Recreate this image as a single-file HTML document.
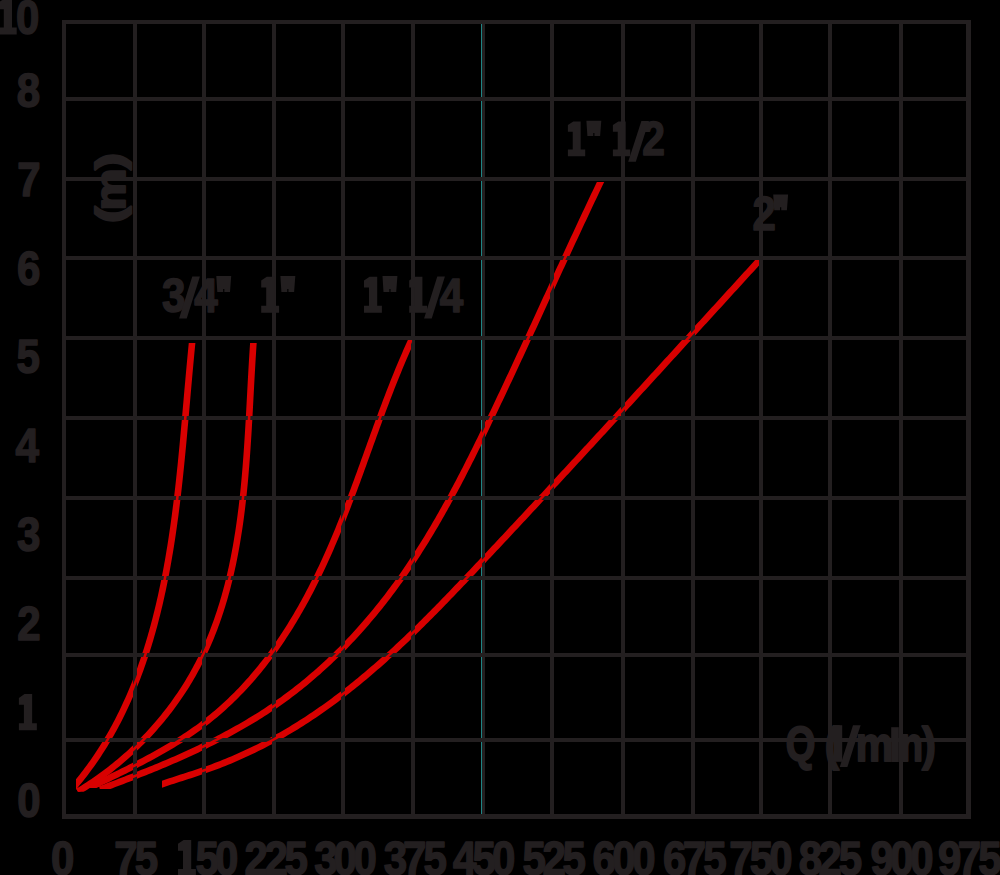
<!DOCTYPE html>
<html><head><meta charset="utf-8"><style>
html,body{margin:0;padding:0;background:#000;width:1000px;height:875px;overflow:hidden}
svg{display:block}
text{font-family:"Liberation Sans",sans-serif}
</style></head><body>
<svg width="1000" height="875" viewBox="0 0 1000 875">
<defs><clipPath id="kc1"><rect x="76" y="343" width="924" height="532"/></clipPath><clipPath id="kc2"><rect x="0" y="343" width="1000" height="448.79999999999995"/></clipPath><clipPath id="kc3"><rect x="0" y="340" width="412" height="448"/></clipPath><clipPath id="kc4"><rect x="0" y="182" width="1000" height="607"/></clipPath><clipPath id="kc5"><rect x="162" y="260" width="597" height="615"/></clipPath></defs><rect width="1000" height="875" fill="#000"/>
<rect x="481" y="24" width="1" height="790" fill="#1f8585"/>
<g fill="none" stroke="#d80000" stroke-width="6.6" stroke-linejoin="round"><path clip-path="url(#kc1)" d="M192.65,337.32 L192.06,343.29 L191.76,346.28 L191.47,349.27 L191.18,352.26 L190.89,355.25 L190.61,358.24 L190.33,361.23 L190.05,364.22 L189.78,367.21 L189.50,370.21 L189.23,373.20 L188.96,376.19 L188.69,379.18 L188.43,382.18 L188.16,385.17 L187.90,388.16 L187.63,391.16 L187.37,394.15 L187.11,397.14 L186.85,400.14 L186.59,403.13 L186.32,406.12 L186.06,409.12 L185.80,412.11 L185.54,415.10 L185.27,418.09 L185.01,421.09 L184.74,424.08 L184.47,427.07 L184.20,430.07 L183.93,433.06 L183.66,436.05 L183.39,439.04 L183.11,442.03 L182.83,445.03 L182.55,448.02 L182.26,451.01 L181.97,454.00 L181.68,456.99 L181.39,459.98 L181.09,462.97 L180.79,465.96 L180.48,468.95 L180.17,471.94 L179.86,474.93 L179.54,477.91 L179.22,480.90 L178.89,483.89 L178.56,486.87 L178.22,489.86 L177.88,492.84 L177.53,495.83 L177.17,498.81 L176.81,501.79 L176.45,504.78 L176.07,507.76 L175.69,510.74 L175.31,513.72 L174.92,516.70 L174.52,519.68 L174.11,522.65 L173.69,525.63 L173.27,528.60 L172.84,531.58 L172.41,534.55 L171.96,537.52 L171.51,540.49 L171.04,543.46 L170.57,546.43 L170.09,549.39 L169.60,552.36 L169.10,555.32 L168.60,558.28 L168.08,561.24 L167.55,564.20 L167.02,567.16 L166.47,570.11 L165.91,573.06 L165.34,576.01 L164.76,578.96 L164.17,581.91 L163.57,584.85 L162.96,587.79 L162.34,590.73 L161.70,593.67 L161.06,596.60 L160.40,599.54 L159.73,602.46 L159.04,605.39 L158.35,608.31 L157.64,611.23 L156.92,614.15 L156.18,617.06 L155.43,619.97 L154.67,622.88 L153.90,625.78 L153.11,628.68 L152.30,631.58 L151.49,634.47 L150.65,637.36 L149.81,640.24 L148.94,643.12 L148.06,645.99 L147.17,648.86 L146.26,651.72 L145.34,654.58 L144.40,657.43 L143.44,660.28 L142.46,663.12 L141.47,665.96 L140.46,668.79 L139.44,671.62 L138.40,674.43 L137.33,677.24 L136.26,680.05 L135.16,682.85 L134.04,685.64 L132.91,688.42 L131.76,691.19 L130.59,693.96 L129.40,696.72 L128.19,699.47 L126.96,702.21 L125.71,704.94 L124.44,707.67 L123.15,710.38 L121.84,713.09 L120.51,715.78 L119.16,718.46 L117.79,721.14 L116.40,723.80 L114.99,726.45 L113.55,729.09 L112.10,731.72 L110.63,734.34 L109.13,736.95 L107.61,739.54 L106.07,742.12 L104.51,744.69 L102.93,747.24 L101.32,749.78 L99.70,752.31 L98.05,754.82 L96.38,757.32 L94.68,759.80 L92.97,762.27 L91.23,764.72 L89.48,767.16 L87.70,769.58 L85.90,771.98 L84.07,774.37 L82.23,776.74 L80.36,779.10 L78.47,781.43 L76.56,783.75 L72.75,788.39"/><path clip-path="url(#kc2)" d="M253.76,337.44 L253.35,343.42 L253.15,346.43 L252.95,349.43 L252.76,352.43 L252.57,355.44 L252.38,358.44 L252.20,361.45 L252.03,364.45 L251.85,367.46 L251.68,370.46 L251.51,373.47 L251.34,376.47 L251.18,379.48 L251.01,382.48 L250.85,385.49 L250.69,388.49 L250.53,391.50 L250.37,394.50 L250.21,397.51 L250.05,400.51 L249.89,403.52 L249.73,406.53 L249.57,409.53 L249.40,412.54 L249.24,415.54 L249.07,418.55 L248.90,421.55 L248.72,424.56 L248.55,427.56 L248.37,430.57 L248.19,433.57 L248.00,436.57 L247.81,439.58 L247.62,442.58 L247.42,445.59 L247.22,448.59 L247.01,451.59 L246.80,454.59 L246.58,457.59 L246.35,460.60 L246.12,463.60 L245.89,466.60 L245.64,469.60 L245.39,472.60 L245.13,475.60 L244.87,478.59 L244.59,481.59 L244.31,484.59 L244.02,487.58 L243.72,490.58 L243.41,493.57 L243.09,496.56 L242.76,499.56 L242.43,502.55 L242.08,505.54 L241.72,508.53 L241.35,511.51 L240.97,514.50 L240.58,517.48 L240.18,520.46 L239.76,523.45 L239.33,526.43 L238.89,529.40 L238.44,532.38 L237.97,535.35 L237.49,538.32 L237.00,541.29 L236.49,544.26 L235.97,547.22 L235.43,550.18 L234.88,553.14 L234.31,556.10 L233.73,559.05 L233.13,562.00 L232.51,564.95 L231.88,567.89 L231.23,570.83 L230.56,573.76 L229.87,576.69 L229.17,579.62 L228.45,582.54 L227.71,585.46 L226.95,588.37 L226.17,591.28 L225.37,594.18 L224.56,597.08 L223.72,599.97 L222.86,602.85 L221.98,605.73 L221.08,608.60 L220.16,611.47 L219.22,614.33 L218.25,617.18 L217.27,620.02 L216.26,622.86 L215.22,625.68 L214.17,628.50 L213.09,631.31 L211.99,634.11 L210.86,636.91 L209.72,639.69 L208.54,642.46 L207.34,645.22 L206.12,647.97 L204.88,650.71 L203.60,653.44 L202.31,656.16 L200.99,658.86 L199.64,661.55 L198.27,664.23 L196.87,666.89 L195.44,669.55 L193.99,672.18 L192.52,674.81 L191.02,677.42 L189.49,680.01 L187.94,682.59 L186.36,685.15 L184.76,687.70 L183.13,690.23 L181.48,692.75 L179.80,695.25 L178.10,697.73 L176.38,700.20 L174.63,702.65 L172.86,705.08 L171.06,707.50 L169.25,709.90 L167.41,712.28 L165.55,714.65 L163.67,716.99 L161.76,719.33 L159.84,721.64 L157.89,723.93 L155.92,726.21 L153.93,728.47 L151.92,730.71 L149.89,732.93 L147.84,735.13 L145.77,737.32 L143.68,739.48 L141.57,741.63 L139.43,743.75 L137.28,745.86 L135.11,747.94 L132.92,750.01 L130.72,752.05 L128.49,754.08 L126.25,756.08 L123.98,758.07 L121.70,760.03 L119.40,761.97 L117.09,763.90 L114.75,765.80 L112.40,767.67 L110.03,769.53 L107.65,771.37 L105.24,773.18 L102.82,774.97 L100.39,776.74 L97.94,778.48 L95.47,780.21 L92.98,781.90 L90.48,783.58 L87.97,785.23 L85.43,786.86 L82.89,788.46 L77.81,791.66"/><path clip-path="url(#kc3)" d="M413.80,334.99 L411.31,340.45 L410.05,343.19 L408.81,345.94 L407.58,348.69 L406.36,351.45 L405.15,354.21 L403.95,356.97 L402.76,359.75 L401.59,362.52 L400.42,365.30 L399.26,368.08 L398.11,370.87 L396.96,373.66 L395.83,376.45 L394.71,379.25 L393.59,382.05 L392.48,384.85 L391.37,387.66 L390.28,390.47 L389.19,393.28 L388.11,396.09 L387.03,398.91 L385.96,401.73 L384.89,404.55 L383.83,407.37 L382.78,410.20 L381.73,413.02 L380.68,415.85 L379.64,418.68 L378.60,421.51 L377.56,424.34 L376.53,427.17 L375.50,430.01 L374.47,432.84 L373.44,435.67 L372.42,438.51 L371.39,441.35 L370.37,444.18 L369.35,447.02 L368.33,449.86 L367.31,452.69 L366.29,455.53 L365.26,458.37 L364.24,461.20 L363.22,464.04 L362.19,466.87 L361.17,469.71 L360.14,472.54 L359.11,475.38 L358.07,478.21 L357.04,481.04 L355.99,483.87 L354.95,486.70 L353.90,489.53 L352.85,492.35 L351.79,495.17 L350.73,498.00 L349.67,500.82 L348.59,503.63 L347.51,506.45 L346.43,509.26 L345.34,512.07 L344.24,514.88 L343.14,517.69 L342.03,520.49 L340.91,523.29 L339.78,526.09 L338.64,528.88 L337.50,531.67 L336.35,534.45 L335.18,537.24 L334.01,540.02 L332.83,542.79 L331.64,545.56 L330.44,548.32 L329.23,551.09 L328.01,553.84 L326.77,556.59 L325.53,559.34 L324.27,562.08 L323.01,564.82 L321.73,567.55 L320.44,570.27 L319.13,572.99 L317.82,575.70 L316.49,578.41 L315.15,581.11 L313.80,583.81 L312.43,586.49 L311.06,589.18 L309.66,591.85 L308.26,594.52 L306.84,597.18 L305.40,599.83 L303.96,602.47 L302.49,605.11 L301.02,607.74 L299.52,610.36 L298.02,612.97 L296.50,615.57 L294.96,618.17 L293.41,620.75 L291.84,623.33 L290.25,625.89 L288.65,628.45 L287.03,630.99 L285.40,633.53 L283.75,636.05 L282.08,638.56 L280.40,641.06 L278.70,643.55 L276.98,646.03 L275.25,648.49 L273.49,650.95 L271.72,653.39 L269.93,655.81 L268.12,658.23 L266.30,660.63 L264.46,663.01 L262.59,665.38 L260.71,667.74 L258.81,670.08 L256.89,672.41 L254.96,674.72 L253.00,677.01 L251.02,679.29 L249.03,681.55 L247.01,683.79 L244.98,686.02 L242.93,688.22 L240.85,690.41 L238.76,692.59 L236.65,694.74 L234.52,696.87 L232.37,698.98 L230.19,701.07 L228.00,703.15 L225.79,705.20 L223.56,707.23 L221.32,709.23 L219.05,711.22 L216.76,713.18 L214.45,715.13 L212.13,717.04 L209.78,718.94 L207.42,720.81 L205.03,722.66 L202.63,724.48 L200.21,726.28 L197.77,728.05 L195.32,729.80 L192.85,731.53 L190.36,733.23 L187.86,734.92 L185.35,736.58 L182.82,738.22 L180.28,739.85 L177.72,741.45 L175.16,743.04 L172.58,744.60 L170.00,746.15 L167.40,747.69 L164.80,749.21 L162.18,750.71 L159.56,752.19 L156.93,753.67 L154.29,755.13 L151.64,756.57 L148.99,758.01 L146.33,759.43 L143.67,760.84 L141.00,762.24 L138.32,763.62 L135.64,765.00 L132.95,766.37 L130.26,767.74 L127.57,769.09 L124.87,770.44 L122.17,771.78 L119.47,773.11 L116.76,774.44 L114.05,775.77 L111.34,777.09 L108.63,778.41 L105.92,779.72 L103.21,781.03 L100.49,782.35 L97.78,783.66 L95.06,784.97 L92.35,786.28 L86.94,788.89"/><path clip-path="url(#kc4)" d="M602.20,178.52 L599.62,183.94 L598.32,186.65 L597.03,189.36 L595.74,192.07 L594.45,194.78 L593.17,197.49 L591.89,200.21 L590.60,202.92 L589.32,205.63 L588.04,208.35 L586.77,211.07 L585.49,213.78 L584.22,216.50 L582.94,219.22 L581.67,221.94 L580.40,224.66 L579.13,227.38 L577.87,230.10 L576.60,232.82 L575.33,235.54 L574.07,238.26 L572.81,240.99 L571.54,243.71 L570.28,246.43 L569.02,249.16 L567.76,251.88 L566.51,254.61 L565.25,257.33 L563.99,260.06 L562.73,262.78 L561.48,265.51 L560.22,268.24 L558.97,270.96 L557.72,273.69 L556.46,276.42 L555.21,279.15 L553.96,281.87 L552.70,284.60 L551.45,287.33 L550.20,290.06 L548.95,292.78 L547.69,295.51 L546.44,298.24 L545.19,300.97 L543.94,303.70 L542.69,306.42 L541.43,309.15 L540.18,311.88 L538.93,314.61 L537.68,317.34 L536.42,320.06 L535.17,322.79 L533.92,325.52 L532.66,328.24 L531.41,330.97 L530.15,333.70 L528.90,336.42 L527.64,339.15 L526.38,341.88 L525.12,344.60 L523.87,347.33 L522.61,350.05 L521.34,352.77 L520.08,355.50 L518.82,358.22 L517.56,360.94 L516.29,363.67 L515.03,366.39 L513.76,369.11 L512.49,371.83 L511.22,374.55 L509.95,377.27 L508.68,379.99 L507.41,382.70 L506.13,385.42 L504.85,388.14 L503.58,390.85 L502.30,393.57 L501.01,396.28 L499.73,399.00 L498.45,401.71 L497.16,404.42 L495.87,407.13 L494.58,409.84 L493.29,412.55 L492.00,415.26 L490.70,417.97 L489.40,420.67 L488.10,423.38 L486.80,426.08 L485.49,428.79 L484.18,431.49 L482.87,434.19 L481.56,436.89 L480.24,439.58 L478.92,442.28 L477.60,444.97 L476.27,447.66 L474.94,450.35 L473.60,453.04 L472.26,455.73 L470.91,458.41 L469.56,461.09 L468.21,463.77 L466.85,466.44 L465.49,469.12 L464.11,471.79 L462.74,474.46 L461.36,477.12 L459.97,479.78 L458.58,482.44 L457.18,485.10 L455.77,487.75 L454.36,490.40 L452.94,493.04 L451.52,495.69 L450.09,498.32 L448.65,500.96 L447.20,503.59 L445.75,506.21 L444.28,508.83 L442.82,511.45 L441.34,514.06 L439.85,516.67 L438.36,519.28 L436.86,521.87 L435.35,524.47 L433.83,527.06 L432.30,529.64 L430.76,532.22 L429.21,534.79 L427.66,537.36 L426.09,539.92 L424.52,542.47 L422.93,545.02 L421.34,547.56 L419.73,550.10 L418.11,552.63 L416.49,555.15 L414.85,557.67 L413.21,560.18 L411.55,562.68 L409.88,565.18 L408.20,567.66 L406.51,570.14 L404.81,572.62 L403.09,575.08 L401.37,577.54 L399.63,579.98 L397.88,582.42 L396.12,584.85 L394.35,587.28 L392.56,589.69 L390.77,592.09 L388.96,594.49 L387.14,596.88 L385.31,599.25 L383.46,601.62 L381.61,603.98 L379.74,606.33 L377.86,608.67 L375.96,611.00 L374.06,613.32 L372.14,615.63 L370.21,617.93 L368.27,620.22 L366.32,622.50 L364.35,624.76 L362.37,627.02 L360.38,629.27 L358.38,631.50 L356.36,633.73 L354.33,635.94 L352.29,638.14 L350.24,640.33 L348.17,642.51 L346.10,644.67 L344.00,646.82 L341.90,648.97 L339.79,651.09 L337.66,653.21 L335.52,655.31 L333.36,657.41 L331.20,659.48 L329.02,661.55 L326.82,663.60 L324.62,665.64 L322.40,667.66 L320.17,669.67 L317.93,671.66 L315.68,673.65 L313.41,675.61 L311.13,677.56 L308.84,679.50 L306.53,681.43 L304.22,683.33 L301.89,685.23 L299.54,687.10 L297.19,688.96 L294.82,690.81 L292.44,692.64 L290.05,694.45 L287.65,696.25 L285.23,698.03 L282.80,699.80 L280.36,701.55 L277.91,703.27 L275.45,704.99 L272.97,706.68 L270.48,708.36 L267.98,710.02 L265.47,711.67 L262.95,713.30 L260.42,714.91 L257.88,716.51 L255.32,718.09 L252.76,719.65 L250.19,721.20 L247.61,722.74 L245.03,724.26 L242.43,725.76 L239.82,727.25 L237.21,728.73 L234.59,730.19 L231.96,731.65 L229.33,733.08 L226.69,734.51 L224.04,735.92 L221.38,737.32 L218.72,738.71 L216.06,740.09 L213.38,741.45 L210.70,742.81 L208.02,744.15 L205.33,745.48 L202.64,746.80 L199.93,748.11 L197.23,749.41 L194.52,750.70 L191.80,751.97 L189.08,753.24 L186.35,754.49 L183.62,755.73 L180.88,756.97 L178.14,758.19 L175.39,759.40 L172.64,760.60 L169.88,761.79 L167.12,762.96 L164.36,764.13 L161.59,765.29 L158.82,766.44 L156.04,767.58 L153.26,768.71 L150.48,769.84 L147.69,770.96 L144.90,772.07 L142.11,773.17 L139.32,774.28 L136.53,775.37 L133.73,776.46 L130.93,777.55 L128.14,778.64 L125.34,779.72 L122.54,780.80 L119.74,781.88 L116.93,782.96 L114.13,784.04 L111.33,785.12 L108.53,786.20 L105.73,787.28 L100.13,789.44"/><path clip-path="url(#kc5)" d="M762.70,256.62 L758.65,261.05 L756.63,263.26 L754.60,265.48 L752.58,267.70 L750.55,269.91 L748.53,272.13 L746.50,274.35 L744.48,276.57 L742.46,278.78 L740.43,281.00 L738.41,283.22 L736.39,285.44 L734.36,287.65 L732.34,289.87 L730.31,292.09 L728.29,294.31 L726.27,296.52 L724.24,298.74 L722.22,300.96 L720.20,303.18 L718.17,305.40 L716.15,307.61 L714.13,309.83 L712.10,312.05 L710.08,314.27 L708.05,316.48 L706.03,318.70 L704.01,320.92 L701.98,323.14 L699.96,325.35 L697.94,327.57 L695.91,329.79 L693.89,332.01 L691.86,334.22 L689.84,336.44 L687.82,338.66 L685.79,340.88 L683.77,343.09 L681.74,345.31 L679.72,347.53 L677.69,349.74 L675.67,351.96 L673.64,354.18 L671.62,356.39 L669.60,358.61 L667.57,360.83 L665.54,363.04 L663.52,365.26 L661.49,367.48 L659.47,369.69 L657.44,371.91 L655.42,374.12 L653.39,376.34 L651.36,378.55 L649.34,380.77 L647.31,382.98 L645.28,385.20 L643.26,387.41 L641.23,389.63 L639.20,391.84 L637.18,394.06 L635.15,396.27 L633.12,398.48 L631.09,400.70 L629.06,402.91 L627.04,405.12 L625.01,407.34 L622.98,409.55 L620.95,411.76 L618.92,413.98 L616.89,416.19 L614.86,418.40 L612.83,420.61 L610.80,422.82 L608.77,425.03 L606.74,427.25 L604.71,429.46 L602.68,431.67 L600.64,433.88 L598.61,436.09 L596.58,438.30 L594.55,440.51 L592.51,442.72 L590.48,444.92 L588.45,447.13 L586.41,449.34 L584.38,451.55 L582.35,453.76 L580.31,455.96 L578.28,458.17 L576.24,460.38 L574.20,462.59 L572.17,464.79 L570.13,467.00 L568.09,469.20 L566.06,471.41 L564.02,473.61 L561.98,475.82 L559.94,478.02 L557.91,480.23 L555.87,482.43 L553.83,484.63 L551.79,486.84 L549.75,489.04 L547.71,491.24 L545.67,493.44 L543.62,495.64 L541.58,497.84 L539.54,500.04 L537.50,502.24 L535.45,504.44 L533.41,506.64 L531.37,508.84 L529.32,511.04 L527.28,513.24 L525.23,515.44 L523.19,517.63 L521.14,519.83 L519.09,522.03 L517.05,524.22 L515.00,526.42 L512.95,528.61 L510.90,530.81 L508.85,533.00 L506.80,535.20 L504.75,537.39 L502.70,539.58 L500.65,541.77 L498.60,543.97 L496.55,546.16 L494.49,548.35 L492.44,550.54 L490.39,552.73 L488.33,554.92 L486.28,557.11 L484.22,559.29 L482.17,561.48 L480.11,563.67 L478.05,565.86 L475.99,568.04 L473.94,570.23 L471.88,572.41 L469.81,574.59 L467.75,576.77 L465.69,578.95 L463.62,581.13 L461.55,583.31 L459.48,585.48 L457.41,587.65 L455.33,589.82 L453.26,591.99 L451.18,594.16 L449.09,596.32 L447.01,598.48 L444.92,600.63 L442.83,602.79 L440.73,604.94 L438.63,607.09 L436.53,609.23 L434.43,611.37 L432.32,613.50 L430.20,615.63 L428.08,617.76 L425.96,619.89 L423.83,622.00 L421.70,624.12 L419.56,626.23 L417.42,628.33 L415.28,630.43 L413.12,632.52 L410.97,634.61 L408.80,636.69 L406.64,638.77 L404.46,640.84 L402.28,642.91 L400.10,644.96 L397.91,647.01 L395.71,649.06 L393.50,651.10 L391.29,653.13 L389.07,655.15 L386.85,657.17 L384.62,659.18 L382.38,661.18 L380.14,663.17 L377.88,665.16 L375.62,667.13 L373.36,669.10 L371.08,671.06 L368.80,673.01 L366.51,674.95 L364.21,676.88 L361.90,678.81 L359.59,680.72 L357.27,682.62 L354.94,684.51 L352.60,686.39 L350.25,688.27 L347.89,690.13 L345.53,691.98 L343.16,693.82 L340.77,695.64 L338.38,697.46 L335.98,699.26 L333.57,701.05 L331.16,702.83 L328.73,704.60 L326.29,706.35 L323.85,708.09 L321.39,709.82 L318.93,711.54 L316.45,713.24 L313.97,714.93 L311.48,716.60 L308.98,718.26 L306.46,719.90 L303.94,721.53 L301.41,723.15 L298.87,724.75 L296.32,726.33 L293.76,727.90 L291.19,729.46 L288.62,730.99 L286.03,732.52 L283.43,734.02 L280.82,735.51 L278.21,736.98 L275.58,738.44 L272.95,739.88 L270.30,741.30 L267.65,742.71 L264.99,744.10 L262.32,745.48 L259.64,746.83 L256.96,748.17 L254.26,749.50 L251.56,750.80 L248.85,752.09 L246.13,753.36 L243.40,754.62 L240.67,755.85 L237.92,757.07 L235.17,758.27 L232.41,759.46 L229.64,760.62 L226.87,761.77 L224.09,762.90 L221.30,764.00 L218.50,765.10 L215.70,766.17 L212.89,767.22 L210.07,768.25 L207.24,769.27 L204.41,770.26 L201.57,771.24 L198.72,772.20 L195.87,773.14 L193.02,774.08 L190.16,775.00 L187.31,775.92 L184.45,776.84 L181.59,777.75 L178.73,778.67 L175.87,779.60 L173.02,780.53 L170.17,781.48 L167.33,782.44 L164.49,783.42 L161.66,784.41 L156.00,786.40"/></g>
<g fill="#231f20"><rect x="62" y="20" width="4" height="799"/><rect x="133" y="20" width="4" height="799"/><rect x="202" y="20" width="4" height="799"/><rect x="272" y="20" width="4" height="799"/><rect x="341" y="20" width="4" height="799"/><rect x="411" y="20" width="4" height="799"/><rect x="482" y="20" width="3" height="799"/><rect x="550" y="20" width="4" height="799"/><rect x="621" y="20" width="4" height="799"/><rect x="691" y="20" width="4" height="799"/><rect x="759" y="20" width="4" height="799"/><rect x="828" y="20" width="4" height="799"/><rect x="899" y="20" width="4" height="799"/><rect x="966" y="20" width="5" height="799"/><rect x="62" y="20" width="909" height="4"/><rect x="62" y="97" width="909" height="4"/><rect x="62" y="177" width="909" height="4"/><rect x="62" y="256" width="909" height="4"/><rect x="62" y="336" width="909" height="4"/><rect x="62" y="416" width="909" height="4"/><rect x="62" y="496" width="909" height="4"/><rect x="62" y="576" width="909" height="4"/><rect x="62" y="653" width="909" height="4"/><rect x="62" y="738" width="909" height="4"/><rect x="62" y="814" width="909" height="5"/></g>
<g fill="none" stroke="#d80000" stroke-width="2.6" stroke-linejoin="round"><path clip-path="url(#kc1)" d="M192.65,337.32 L192.06,343.29 L191.76,346.28 L191.47,349.27 L191.18,352.26 L190.89,355.25 L190.61,358.24 L190.33,361.23 L190.05,364.22 L189.78,367.21 L189.50,370.21 L189.23,373.20 L188.96,376.19 L188.69,379.18 L188.43,382.18 L188.16,385.17 L187.90,388.16 L187.63,391.16 L187.37,394.15 L187.11,397.14 L186.85,400.14 L186.59,403.13 L186.32,406.12 L186.06,409.12 L185.80,412.11 L185.54,415.10 L185.27,418.09 L185.01,421.09 L184.74,424.08 L184.47,427.07 L184.20,430.07 L183.93,433.06 L183.66,436.05 L183.39,439.04 L183.11,442.03 L182.83,445.03 L182.55,448.02 L182.26,451.01 L181.97,454.00 L181.68,456.99 L181.39,459.98 L181.09,462.97 L180.79,465.96 L180.48,468.95 L180.17,471.94 L179.86,474.93 L179.54,477.91 L179.22,480.90 L178.89,483.89 L178.56,486.87 L178.22,489.86 L177.88,492.84 L177.53,495.83 L177.17,498.81 L176.81,501.79 L176.45,504.78 L176.07,507.76 L175.69,510.74 L175.31,513.72 L174.92,516.70 L174.52,519.68 L174.11,522.65 L173.69,525.63 L173.27,528.60 L172.84,531.58 L172.41,534.55 L171.96,537.52 L171.51,540.49 L171.04,543.46 L170.57,546.43 L170.09,549.39 L169.60,552.36 L169.10,555.32 L168.60,558.28 L168.08,561.24 L167.55,564.20 L167.02,567.16 L166.47,570.11 L165.91,573.06 L165.34,576.01 L164.76,578.96 L164.17,581.91 L163.57,584.85 L162.96,587.79 L162.34,590.73 L161.70,593.67 L161.06,596.60 L160.40,599.54 L159.73,602.46 L159.04,605.39 L158.35,608.31 L157.64,611.23 L156.92,614.15 L156.18,617.06 L155.43,619.97 L154.67,622.88 L153.90,625.78 L153.11,628.68 L152.30,631.58 L151.49,634.47 L150.65,637.36 L149.81,640.24 L148.94,643.12 L148.06,645.99 L147.17,648.86 L146.26,651.72 L145.34,654.58 L144.40,657.43 L143.44,660.28 L142.46,663.12 L141.47,665.96 L140.46,668.79 L139.44,671.62 L138.40,674.43 L137.33,677.24 L136.26,680.05 L135.16,682.85 L134.04,685.64 L132.91,688.42 L131.76,691.19 L130.59,693.96 L129.40,696.72 L128.19,699.47 L126.96,702.21 L125.71,704.94 L124.44,707.67 L123.15,710.38 L121.84,713.09 L120.51,715.78 L119.16,718.46 L117.79,721.14 L116.40,723.80 L114.99,726.45 L113.55,729.09 L112.10,731.72 L110.63,734.34 L109.13,736.95 L107.61,739.54 L106.07,742.12 L104.51,744.69 L102.93,747.24 L101.32,749.78 L99.70,752.31 L98.05,754.82 L96.38,757.32 L94.68,759.80 L92.97,762.27 L91.23,764.72 L89.48,767.16 L87.70,769.58 L85.90,771.98 L84.07,774.37 L82.23,776.74 L80.36,779.10 L78.47,781.43 L76.56,783.75 L72.75,788.39"/><path clip-path="url(#kc2)" d="M253.76,337.44 L253.35,343.42 L253.15,346.43 L252.95,349.43 L252.76,352.43 L252.57,355.44 L252.38,358.44 L252.20,361.45 L252.03,364.45 L251.85,367.46 L251.68,370.46 L251.51,373.47 L251.34,376.47 L251.18,379.48 L251.01,382.48 L250.85,385.49 L250.69,388.49 L250.53,391.50 L250.37,394.50 L250.21,397.51 L250.05,400.51 L249.89,403.52 L249.73,406.53 L249.57,409.53 L249.40,412.54 L249.24,415.54 L249.07,418.55 L248.90,421.55 L248.72,424.56 L248.55,427.56 L248.37,430.57 L248.19,433.57 L248.00,436.57 L247.81,439.58 L247.62,442.58 L247.42,445.59 L247.22,448.59 L247.01,451.59 L246.80,454.59 L246.58,457.59 L246.35,460.60 L246.12,463.60 L245.89,466.60 L245.64,469.60 L245.39,472.60 L245.13,475.60 L244.87,478.59 L244.59,481.59 L244.31,484.59 L244.02,487.58 L243.72,490.58 L243.41,493.57 L243.09,496.56 L242.76,499.56 L242.43,502.55 L242.08,505.54 L241.72,508.53 L241.35,511.51 L240.97,514.50 L240.58,517.48 L240.18,520.46 L239.76,523.45 L239.33,526.43 L238.89,529.40 L238.44,532.38 L237.97,535.35 L237.49,538.32 L237.00,541.29 L236.49,544.26 L235.97,547.22 L235.43,550.18 L234.88,553.14 L234.31,556.10 L233.73,559.05 L233.13,562.00 L232.51,564.95 L231.88,567.89 L231.23,570.83 L230.56,573.76 L229.87,576.69 L229.17,579.62 L228.45,582.54 L227.71,585.46 L226.95,588.37 L226.17,591.28 L225.37,594.18 L224.56,597.08 L223.72,599.97 L222.86,602.85 L221.98,605.73 L221.08,608.60 L220.16,611.47 L219.22,614.33 L218.25,617.18 L217.27,620.02 L216.26,622.86 L215.22,625.68 L214.17,628.50 L213.09,631.31 L211.99,634.11 L210.86,636.91 L209.72,639.69 L208.54,642.46 L207.34,645.22 L206.12,647.97 L204.88,650.71 L203.60,653.44 L202.31,656.16 L200.99,658.86 L199.64,661.55 L198.27,664.23 L196.87,666.89 L195.44,669.55 L193.99,672.18 L192.52,674.81 L191.02,677.42 L189.49,680.01 L187.94,682.59 L186.36,685.15 L184.76,687.70 L183.13,690.23 L181.48,692.75 L179.80,695.25 L178.10,697.73 L176.38,700.20 L174.63,702.65 L172.86,705.08 L171.06,707.50 L169.25,709.90 L167.41,712.28 L165.55,714.65 L163.67,716.99 L161.76,719.33 L159.84,721.64 L157.89,723.93 L155.92,726.21 L153.93,728.47 L151.92,730.71 L149.89,732.93 L147.84,735.13 L145.77,737.32 L143.68,739.48 L141.57,741.63 L139.43,743.75 L137.28,745.86 L135.11,747.94 L132.92,750.01 L130.72,752.05 L128.49,754.08 L126.25,756.08 L123.98,758.07 L121.70,760.03 L119.40,761.97 L117.09,763.90 L114.75,765.80 L112.40,767.67 L110.03,769.53 L107.65,771.37 L105.24,773.18 L102.82,774.97 L100.39,776.74 L97.94,778.48 L95.47,780.21 L92.98,781.90 L90.48,783.58 L87.97,785.23 L85.43,786.86 L82.89,788.46 L77.81,791.66"/><path clip-path="url(#kc3)" d="M413.80,334.99 L411.31,340.45 L410.05,343.19 L408.81,345.94 L407.58,348.69 L406.36,351.45 L405.15,354.21 L403.95,356.97 L402.76,359.75 L401.59,362.52 L400.42,365.30 L399.26,368.08 L398.11,370.87 L396.96,373.66 L395.83,376.45 L394.71,379.25 L393.59,382.05 L392.48,384.85 L391.37,387.66 L390.28,390.47 L389.19,393.28 L388.11,396.09 L387.03,398.91 L385.96,401.73 L384.89,404.55 L383.83,407.37 L382.78,410.20 L381.73,413.02 L380.68,415.85 L379.64,418.68 L378.60,421.51 L377.56,424.34 L376.53,427.17 L375.50,430.01 L374.47,432.84 L373.44,435.67 L372.42,438.51 L371.39,441.35 L370.37,444.18 L369.35,447.02 L368.33,449.86 L367.31,452.69 L366.29,455.53 L365.26,458.37 L364.24,461.20 L363.22,464.04 L362.19,466.87 L361.17,469.71 L360.14,472.54 L359.11,475.38 L358.07,478.21 L357.04,481.04 L355.99,483.87 L354.95,486.70 L353.90,489.53 L352.85,492.35 L351.79,495.17 L350.73,498.00 L349.67,500.82 L348.59,503.63 L347.51,506.45 L346.43,509.26 L345.34,512.07 L344.24,514.88 L343.14,517.69 L342.03,520.49 L340.91,523.29 L339.78,526.09 L338.64,528.88 L337.50,531.67 L336.35,534.45 L335.18,537.24 L334.01,540.02 L332.83,542.79 L331.64,545.56 L330.44,548.32 L329.23,551.09 L328.01,553.84 L326.77,556.59 L325.53,559.34 L324.27,562.08 L323.01,564.82 L321.73,567.55 L320.44,570.27 L319.13,572.99 L317.82,575.70 L316.49,578.41 L315.15,581.11 L313.80,583.81 L312.43,586.49 L311.06,589.18 L309.66,591.85 L308.26,594.52 L306.84,597.18 L305.40,599.83 L303.96,602.47 L302.49,605.11 L301.02,607.74 L299.52,610.36 L298.02,612.97 L296.50,615.57 L294.96,618.17 L293.41,620.75 L291.84,623.33 L290.25,625.89 L288.65,628.45 L287.03,630.99 L285.40,633.53 L283.75,636.05 L282.08,638.56 L280.40,641.06 L278.70,643.55 L276.98,646.03 L275.25,648.49 L273.49,650.95 L271.72,653.39 L269.93,655.81 L268.12,658.23 L266.30,660.63 L264.46,663.01 L262.59,665.38 L260.71,667.74 L258.81,670.08 L256.89,672.41 L254.96,674.72 L253.00,677.01 L251.02,679.29 L249.03,681.55 L247.01,683.79 L244.98,686.02 L242.93,688.22 L240.85,690.41 L238.76,692.59 L236.65,694.74 L234.52,696.87 L232.37,698.98 L230.19,701.07 L228.00,703.15 L225.79,705.20 L223.56,707.23 L221.32,709.23 L219.05,711.22 L216.76,713.18 L214.45,715.13 L212.13,717.04 L209.78,718.94 L207.42,720.81 L205.03,722.66 L202.63,724.48 L200.21,726.28 L197.77,728.05 L195.32,729.80 L192.85,731.53 L190.36,733.23 L187.86,734.92 L185.35,736.58 L182.82,738.22 L180.28,739.85 L177.72,741.45 L175.16,743.04 L172.58,744.60 L170.00,746.15 L167.40,747.69 L164.80,749.21 L162.18,750.71 L159.56,752.19 L156.93,753.67 L154.29,755.13 L151.64,756.57 L148.99,758.01 L146.33,759.43 L143.67,760.84 L141.00,762.24 L138.32,763.62 L135.64,765.00 L132.95,766.37 L130.26,767.74 L127.57,769.09 L124.87,770.44 L122.17,771.78 L119.47,773.11 L116.76,774.44 L114.05,775.77 L111.34,777.09 L108.63,778.41 L105.92,779.72 L103.21,781.03 L100.49,782.35 L97.78,783.66 L95.06,784.97 L92.35,786.28 L86.94,788.89"/><path clip-path="url(#kc4)" d="M602.20,178.52 L599.62,183.94 L598.32,186.65 L597.03,189.36 L595.74,192.07 L594.45,194.78 L593.17,197.49 L591.89,200.21 L590.60,202.92 L589.32,205.63 L588.04,208.35 L586.77,211.07 L585.49,213.78 L584.22,216.50 L582.94,219.22 L581.67,221.94 L580.40,224.66 L579.13,227.38 L577.87,230.10 L576.60,232.82 L575.33,235.54 L574.07,238.26 L572.81,240.99 L571.54,243.71 L570.28,246.43 L569.02,249.16 L567.76,251.88 L566.51,254.61 L565.25,257.33 L563.99,260.06 L562.73,262.78 L561.48,265.51 L560.22,268.24 L558.97,270.96 L557.72,273.69 L556.46,276.42 L555.21,279.15 L553.96,281.87 L552.70,284.60 L551.45,287.33 L550.20,290.06 L548.95,292.78 L547.69,295.51 L546.44,298.24 L545.19,300.97 L543.94,303.70 L542.69,306.42 L541.43,309.15 L540.18,311.88 L538.93,314.61 L537.68,317.34 L536.42,320.06 L535.17,322.79 L533.92,325.52 L532.66,328.24 L531.41,330.97 L530.15,333.70 L528.90,336.42 L527.64,339.15 L526.38,341.88 L525.12,344.60 L523.87,347.33 L522.61,350.05 L521.34,352.77 L520.08,355.50 L518.82,358.22 L517.56,360.94 L516.29,363.67 L515.03,366.39 L513.76,369.11 L512.49,371.83 L511.22,374.55 L509.95,377.27 L508.68,379.99 L507.41,382.70 L506.13,385.42 L504.85,388.14 L503.58,390.85 L502.30,393.57 L501.01,396.28 L499.73,399.00 L498.45,401.71 L497.16,404.42 L495.87,407.13 L494.58,409.84 L493.29,412.55 L492.00,415.26 L490.70,417.97 L489.40,420.67 L488.10,423.38 L486.80,426.08 L485.49,428.79 L484.18,431.49 L482.87,434.19 L481.56,436.89 L480.24,439.58 L478.92,442.28 L477.60,444.97 L476.27,447.66 L474.94,450.35 L473.60,453.04 L472.26,455.73 L470.91,458.41 L469.56,461.09 L468.21,463.77 L466.85,466.44 L465.49,469.12 L464.11,471.79 L462.74,474.46 L461.36,477.12 L459.97,479.78 L458.58,482.44 L457.18,485.10 L455.77,487.75 L454.36,490.40 L452.94,493.04 L451.52,495.69 L450.09,498.32 L448.65,500.96 L447.20,503.59 L445.75,506.21 L444.28,508.83 L442.82,511.45 L441.34,514.06 L439.85,516.67 L438.36,519.28 L436.86,521.87 L435.35,524.47 L433.83,527.06 L432.30,529.64 L430.76,532.22 L429.21,534.79 L427.66,537.36 L426.09,539.92 L424.52,542.47 L422.93,545.02 L421.34,547.56 L419.73,550.10 L418.11,552.63 L416.49,555.15 L414.85,557.67 L413.21,560.18 L411.55,562.68 L409.88,565.18 L408.20,567.66 L406.51,570.14 L404.81,572.62 L403.09,575.08 L401.37,577.54 L399.63,579.98 L397.88,582.42 L396.12,584.85 L394.35,587.28 L392.56,589.69 L390.77,592.09 L388.96,594.49 L387.14,596.88 L385.31,599.25 L383.46,601.62 L381.61,603.98 L379.74,606.33 L377.86,608.67 L375.96,611.00 L374.06,613.32 L372.14,615.63 L370.21,617.93 L368.27,620.22 L366.32,622.50 L364.35,624.76 L362.37,627.02 L360.38,629.27 L358.38,631.50 L356.36,633.73 L354.33,635.94 L352.29,638.14 L350.24,640.33 L348.17,642.51 L346.10,644.67 L344.00,646.82 L341.90,648.97 L339.79,651.09 L337.66,653.21 L335.52,655.31 L333.36,657.41 L331.20,659.48 L329.02,661.55 L326.82,663.60 L324.62,665.64 L322.40,667.66 L320.17,669.67 L317.93,671.66 L315.68,673.65 L313.41,675.61 L311.13,677.56 L308.84,679.50 L306.53,681.43 L304.22,683.33 L301.89,685.23 L299.54,687.10 L297.19,688.96 L294.82,690.81 L292.44,692.64 L290.05,694.45 L287.65,696.25 L285.23,698.03 L282.80,699.80 L280.36,701.55 L277.91,703.27 L275.45,704.99 L272.97,706.68 L270.48,708.36 L267.98,710.02 L265.47,711.67 L262.95,713.30 L260.42,714.91 L257.88,716.51 L255.32,718.09 L252.76,719.65 L250.19,721.20 L247.61,722.74 L245.03,724.26 L242.43,725.76 L239.82,727.25 L237.21,728.73 L234.59,730.19 L231.96,731.65 L229.33,733.08 L226.69,734.51 L224.04,735.92 L221.38,737.32 L218.72,738.71 L216.06,740.09 L213.38,741.45 L210.70,742.81 L208.02,744.15 L205.33,745.48 L202.64,746.80 L199.93,748.11 L197.23,749.41 L194.52,750.70 L191.80,751.97 L189.08,753.24 L186.35,754.49 L183.62,755.73 L180.88,756.97 L178.14,758.19 L175.39,759.40 L172.64,760.60 L169.88,761.79 L167.12,762.96 L164.36,764.13 L161.59,765.29 L158.82,766.44 L156.04,767.58 L153.26,768.71 L150.48,769.84 L147.69,770.96 L144.90,772.07 L142.11,773.17 L139.32,774.28 L136.53,775.37 L133.73,776.46 L130.93,777.55 L128.14,778.64 L125.34,779.72 L122.54,780.80 L119.74,781.88 L116.93,782.96 L114.13,784.04 L111.33,785.12 L108.53,786.20 L105.73,787.28 L100.13,789.44"/><path clip-path="url(#kc5)" d="M762.70,256.62 L758.65,261.05 L756.63,263.26 L754.60,265.48 L752.58,267.70 L750.55,269.91 L748.53,272.13 L746.50,274.35 L744.48,276.57 L742.46,278.78 L740.43,281.00 L738.41,283.22 L736.39,285.44 L734.36,287.65 L732.34,289.87 L730.31,292.09 L728.29,294.31 L726.27,296.52 L724.24,298.74 L722.22,300.96 L720.20,303.18 L718.17,305.40 L716.15,307.61 L714.13,309.83 L712.10,312.05 L710.08,314.27 L708.05,316.48 L706.03,318.70 L704.01,320.92 L701.98,323.14 L699.96,325.35 L697.94,327.57 L695.91,329.79 L693.89,332.01 L691.86,334.22 L689.84,336.44 L687.82,338.66 L685.79,340.88 L683.77,343.09 L681.74,345.31 L679.72,347.53 L677.69,349.74 L675.67,351.96 L673.64,354.18 L671.62,356.39 L669.60,358.61 L667.57,360.83 L665.54,363.04 L663.52,365.26 L661.49,367.48 L659.47,369.69 L657.44,371.91 L655.42,374.12 L653.39,376.34 L651.36,378.55 L649.34,380.77 L647.31,382.98 L645.28,385.20 L643.26,387.41 L641.23,389.63 L639.20,391.84 L637.18,394.06 L635.15,396.27 L633.12,398.48 L631.09,400.70 L629.06,402.91 L627.04,405.12 L625.01,407.34 L622.98,409.55 L620.95,411.76 L618.92,413.98 L616.89,416.19 L614.86,418.40 L612.83,420.61 L610.80,422.82 L608.77,425.03 L606.74,427.25 L604.71,429.46 L602.68,431.67 L600.64,433.88 L598.61,436.09 L596.58,438.30 L594.55,440.51 L592.51,442.72 L590.48,444.92 L588.45,447.13 L586.41,449.34 L584.38,451.55 L582.35,453.76 L580.31,455.96 L578.28,458.17 L576.24,460.38 L574.20,462.59 L572.17,464.79 L570.13,467.00 L568.09,469.20 L566.06,471.41 L564.02,473.61 L561.98,475.82 L559.94,478.02 L557.91,480.23 L555.87,482.43 L553.83,484.63 L551.79,486.84 L549.75,489.04 L547.71,491.24 L545.67,493.44 L543.62,495.64 L541.58,497.84 L539.54,500.04 L537.50,502.24 L535.45,504.44 L533.41,506.64 L531.37,508.84 L529.32,511.04 L527.28,513.24 L525.23,515.44 L523.19,517.63 L521.14,519.83 L519.09,522.03 L517.05,524.22 L515.00,526.42 L512.95,528.61 L510.90,530.81 L508.85,533.00 L506.80,535.20 L504.75,537.39 L502.70,539.58 L500.65,541.77 L498.60,543.97 L496.55,546.16 L494.49,548.35 L492.44,550.54 L490.39,552.73 L488.33,554.92 L486.28,557.11 L484.22,559.29 L482.17,561.48 L480.11,563.67 L478.05,565.86 L475.99,568.04 L473.94,570.23 L471.88,572.41 L469.81,574.59 L467.75,576.77 L465.69,578.95 L463.62,581.13 L461.55,583.31 L459.48,585.48 L457.41,587.65 L455.33,589.82 L453.26,591.99 L451.18,594.16 L449.09,596.32 L447.01,598.48 L444.92,600.63 L442.83,602.79 L440.73,604.94 L438.63,607.09 L436.53,609.23 L434.43,611.37 L432.32,613.50 L430.20,615.63 L428.08,617.76 L425.96,619.89 L423.83,622.00 L421.70,624.12 L419.56,626.23 L417.42,628.33 L415.28,630.43 L413.12,632.52 L410.97,634.61 L408.80,636.69 L406.64,638.77 L404.46,640.84 L402.28,642.91 L400.10,644.96 L397.91,647.01 L395.71,649.06 L393.50,651.10 L391.29,653.13 L389.07,655.15 L386.85,657.17 L384.62,659.18 L382.38,661.18 L380.14,663.17 L377.88,665.16 L375.62,667.13 L373.36,669.10 L371.08,671.06 L368.80,673.01 L366.51,674.95 L364.21,676.88 L361.90,678.81 L359.59,680.72 L357.27,682.62 L354.94,684.51 L352.60,686.39 L350.25,688.27 L347.89,690.13 L345.53,691.98 L343.16,693.82 L340.77,695.64 L338.38,697.46 L335.98,699.26 L333.57,701.05 L331.16,702.83 L328.73,704.60 L326.29,706.35 L323.85,708.09 L321.39,709.82 L318.93,711.54 L316.45,713.24 L313.97,714.93 L311.48,716.60 L308.98,718.26 L306.46,719.90 L303.94,721.53 L301.41,723.15 L298.87,724.75 L296.32,726.33 L293.76,727.90 L291.19,729.46 L288.62,730.99 L286.03,732.52 L283.43,734.02 L280.82,735.51 L278.21,736.98 L275.58,738.44 L272.95,739.88 L270.30,741.30 L267.65,742.71 L264.99,744.10 L262.32,745.48 L259.64,746.83 L256.96,748.17 L254.26,749.50 L251.56,750.80 L248.85,752.09 L246.13,753.36 L243.40,754.62 L240.67,755.85 L237.92,757.07 L235.17,758.27 L232.41,759.46 L229.64,760.62 L226.87,761.77 L224.09,762.90 L221.30,764.00 L218.50,765.10 L215.70,766.17 L212.89,767.22 L210.07,768.25 L207.24,769.27 L204.41,770.26 L201.57,771.24 L198.72,772.20 L195.87,773.14 L193.02,774.08 L190.16,775.00 L187.31,775.92 L184.45,776.84 L181.59,777.75 L178.73,778.67 L175.87,779.60 L173.02,780.53 L170.17,781.48 L167.33,782.44 L164.49,783.42 L161.66,784.41 L156.00,786.40"/></g>
<g fill="#231f20" stroke="#231f20" stroke-linejoin="round"><text transform="translate(16.72,106.71) scale(0.8639,1)" font-size="48.71" stroke-width="1.6" font-weight="bold">8</text><text transform="translate(17.34,195.90) scale(0.8611,1)" font-size="48.71" stroke-width="1.6" font-weight="bold">7</text><text transform="translate(16.96,284.71) scale(0.8627,1)" font-size="48.71" stroke-width="1.6" font-weight="bold">6</text><text transform="translate(16.58,373.21) scale(0.8643,1)" font-size="48.71" stroke-width="1.6" font-weight="bold">5</text><text transform="translate(15.50,462.20) scale(0.8682,1)" font-size="48.71" stroke-width="1.6" font-weight="bold">4</text><text transform="translate(16.92,551.16) scale(0.8643,1)" font-size="48.71" stroke-width="1.6" font-weight="bold">3</text><text transform="translate(17.13,639.60) scale(0.8625,1)" font-size="48.71" stroke-width="1.6" font-weight="bold">2</text><path stroke="none" d="M18.90,697.91 L24.52,694.10 L32.14,694.10 L32.14,723.18 L36.85,723.18 L36.85,730.20 L18.90,730.20 L18.90,723.18 L23.91,723.18 L23.91,704.83 L18.90,704.83 Z"/><text transform="translate(17.19,817.41) scale(0.8618,1)" font-size="48.71" stroke-width="1.6" font-weight="bold">0</text><path stroke="none" d="M-1.20,2.40 L4.40,-1.40 L12.00,-1.40 L12.00,27.60 L16.70,27.60 L16.70,34.60 L-1.20,34.60 L-1.20,27.60 L3.80,27.60 L3.80,9.30 L-1.20,9.30 Z"/><text transform="translate(16.11,33.52) scale(0.8618,1)" font-size="48.71" stroke-width="1.6" font-weight="bold">0</text><text transform="translate(51.01,875.22) scale(0.8618,1)" font-size="48.71" stroke-width="1.6" font-weight="bold">0</text><text transform="translate(114.29,875.20) scale(0.8611,1)" font-size="48.71" stroke-width="1.6" font-weight="bold">7</text><text transform="translate(134.79,875.22) scale(0.8643,1)" font-size="48.71" stroke-width="1.6" font-weight="bold">5</text><path stroke="none" d="M178.00,843.80 L183.60,840.00 L191.20,840.00 L191.20,869.00 L195.90,869.00 L195.90,876.00 L178.00,876.00 L178.00,869.00 L183.00,869.00 L183.00,850.70 L178.00,850.70 Z"/><text transform="translate(195.39,875.22) scale(0.8643,1)" font-size="48.71" stroke-width="1.6" font-weight="bold">5</text><text transform="translate(215.01,875.22) scale(0.8618,1)" font-size="48.71" stroke-width="1.6" font-weight="bold">0</text><text transform="translate(244.42,875.20) scale(0.8625,1)" font-size="48.71" stroke-width="1.6" font-weight="bold">2</text><text transform="translate(264.42,875.20) scale(0.8625,1)" font-size="48.71" stroke-width="1.6" font-weight="bold">2</text><text transform="translate(284.59,875.22) scale(0.8643,1)" font-size="48.71" stroke-width="1.6" font-weight="bold">5</text><text transform="translate(314.32,875.23) scale(0.8643,1)" font-size="48.71" stroke-width="1.6" font-weight="bold">3</text><text transform="translate(333.61,875.22) scale(0.8618,1)" font-size="48.71" stroke-width="1.6" font-weight="bold">0</text><text transform="translate(353.61,875.22) scale(0.8618,1)" font-size="48.71" stroke-width="1.6" font-weight="bold">0</text><text transform="translate(383.72,875.23) scale(0.8643,1)" font-size="48.71" stroke-width="1.6" font-weight="bold">3</text><text transform="translate(402.89,875.20) scale(0.8611,1)" font-size="48.71" stroke-width="1.6" font-weight="bold">7</text><text transform="translate(423.39,875.22) scale(0.8643,1)" font-size="48.71" stroke-width="1.6" font-weight="bold">5</text><text transform="translate(453.06,875.20) scale(0.8682,1)" font-size="48.71" stroke-width="1.6" font-weight="bold">4</text><text transform="translate(472.39,875.22) scale(0.8643,1)" font-size="48.71" stroke-width="1.6" font-weight="bold">5</text><text transform="translate(492.01,875.22) scale(0.8618,1)" font-size="48.71" stroke-width="1.6" font-weight="bold">0</text><text transform="translate(522.59,875.22) scale(0.8643,1)" font-size="48.71" stroke-width="1.6" font-weight="bold">5</text><text transform="translate(542.42,875.20) scale(0.8625,1)" font-size="48.71" stroke-width="1.6" font-weight="bold">2</text><text transform="translate(562.59,875.22) scale(0.8643,1)" font-size="48.71" stroke-width="1.6" font-weight="bold">5</text><text transform="translate(592.44,875.22) scale(0.8627,1)" font-size="48.71" stroke-width="1.6" font-weight="bold">6</text><text transform="translate(612.31,875.22) scale(0.8618,1)" font-size="48.71" stroke-width="1.6" font-weight="bold">0</text><text transform="translate(632.31,875.22) scale(0.8618,1)" font-size="48.71" stroke-width="1.6" font-weight="bold">0</text><text transform="translate(662.94,875.22) scale(0.8627,1)" font-size="48.71" stroke-width="1.6" font-weight="bold">6</text><text transform="translate(682.69,875.20) scale(0.8611,1)" font-size="48.71" stroke-width="1.6" font-weight="bold">7</text><text transform="translate(703.19,875.22) scale(0.8643,1)" font-size="48.71" stroke-width="1.6" font-weight="bold">5</text><text transform="translate(729.19,875.20) scale(0.8611,1)" font-size="48.71" stroke-width="1.6" font-weight="bold">7</text><text transform="translate(749.69,875.22) scale(0.8643,1)" font-size="48.71" stroke-width="1.6" font-weight="bold">5</text><text transform="translate(769.31,875.22) scale(0.8618,1)" font-size="48.71" stroke-width="1.6" font-weight="bold">0</text><text transform="translate(798.74,875.22) scale(0.8639,1)" font-size="48.71" stroke-width="1.6" font-weight="bold">8</text><text transform="translate(818.62,875.20) scale(0.8625,1)" font-size="48.71" stroke-width="1.6" font-weight="bold">2</text><text transform="translate(838.79,875.22) scale(0.8643,1)" font-size="48.71" stroke-width="1.6" font-weight="bold">5</text><text transform="translate(870.42,875.22) scale(0.8629,1)" font-size="48.71" stroke-width="1.6" font-weight="bold">9</text><text transform="translate(890.21,875.22) scale(0.8618,1)" font-size="48.71" stroke-width="1.6" font-weight="bold">0</text><text transform="translate(910.21,875.22) scale(0.8618,1)" font-size="48.71" stroke-width="1.6" font-weight="bold">0</text><text transform="translate(938.02,875.22) scale(0.8629,1)" font-size="48.71" stroke-width="1.6" font-weight="bold">9</text><text transform="translate(957.69,875.20) scale(0.8611,1)" font-size="48.71" stroke-width="1.6" font-weight="bold">7</text><text transform="translate(978.19,875.22) scale(0.8643,1)" font-size="48.71" stroke-width="1.6" font-weight="bold">5</text><text transform="translate(162.02,312.03) scale(0.8643,1)" font-size="48.71" stroke-width="1.6" font-weight="bold">3</text><path stroke="none" d="M179.10,318.40 L186.70,318.40 L199.90,276.40 L192.30,276.40 Z"/><text transform="translate(194.16,312.00) scale(0.8682,1)" font-size="48.71" stroke-width="1.6" font-weight="bold">4</text><path stroke="none" d="M216.30,276.10 L231.20,276.10 L230.00,291.94 L224.35,291.94 L224.35,288.94 L223.15,288.94 L223.15,291.94 L217.30,291.94 Z"/><path stroke="none" d="M261.20,280.60 L266.80,276.80 L274.40,276.80 L274.40,305.80 L279.10,305.80 L279.10,312.80 L261.20,312.80 L261.20,305.80 L266.20,305.80 L266.20,287.50 L261.20,287.50 Z"/><path stroke="none" d="M280.40,276.10 L295.30,276.10 L294.10,291.94 L288.45,291.94 L288.45,288.94 L287.25,288.94 L287.25,291.94 L281.40,291.94 Z"/><path stroke="none" d="M364.00,280.60 L369.60,276.80 L377.20,276.80 L377.20,305.80 L381.90,305.80 L381.90,312.80 L364.00,312.80 L364.00,305.80 L369.00,305.80 L369.00,287.50 L364.00,287.50 Z"/><path stroke="none" d="M382.50,276.10 L397.40,276.10 L396.20,291.94 L390.55,291.94 L390.55,288.94 L389.35,288.94 L389.35,291.94 L383.50,291.94 Z"/><path stroke="none" d="M409.20,280.60 L414.80,276.80 L422.40,276.80 L422.40,305.80 L427.10,305.80 L427.10,312.80 L409.20,312.80 L409.20,305.80 L414.20,305.80 L414.20,287.50 L409.20,287.50 Z"/><path stroke="none" d="M424.10,318.40 L431.70,318.40 L444.90,276.40 L437.30,276.40 Z"/><text transform="translate(439.76,312.00) scale(0.8682,1)" font-size="48.71" stroke-width="1.6" font-weight="bold">4</text><path stroke="none" d="M567.90,125.07 L573.31,121.40 L580.66,121.40 L580.66,149.43 L585.20,149.43 L585.20,156.20 L567.90,156.20 L567.90,149.43 L572.73,149.43 L572.73,131.74 L567.90,131.74 Z"/><path stroke="none" d="M586.40,120.70 L601.30,120.70 L600.10,136.01 L594.45,136.01 L594.45,133.01 L593.25,133.01 L593.25,136.01 L587.40,136.01 Z"/><path stroke="none" d="M612.90,125.07 L618.31,121.40 L625.66,121.40 L625.66,149.43 L630.20,149.43 L630.20,156.20 L612.90,156.20 L612.90,149.43 L617.73,149.43 L617.73,131.74 L612.90,131.74 Z"/><path stroke="none" d="M628.20,161.80 L635.80,161.80 L649.00,121.00 L641.40,121.00 Z"/><text transform="translate(642.27,155.40) scale(0.8620,1)" font-size="47.21" stroke-width="1.6" font-weight="bold">2</text><text transform="translate(752.42,230.00) scale(0.8625,1)" font-size="48.71" stroke-width="1.6" font-weight="bold">2</text><path stroke="none" d="M773.20,194.60 L788.10,194.60 L786.90,210.22 L781.25,210.22 L781.25,207.22 L780.05,207.22 L780.05,210.22 L774.20,210.22 Z"/><text transform="translate(785.64,760.27) scale(0.8017,1)" font-size="47.37" stroke-width="2" font-weight="bold">Q</text><text transform="translate(824.77,759.92) scale(0.9261,1)" font-size="46.52" stroke-width="2" font-weight="bold">(</text><rect stroke="none" x="834" y="725.2" width="8.2" height="36.6"/><path stroke="none" d="M839.80,767.00 L847.40,767.00 L860.60,725.20 L853.00,725.20 Z"/><text transform="translate(855.80,761.00) scale(0.8796,1)" font-size="47.87" stroke-width="2" font-weight="bold">m</text><rect stroke="none" x="891.2" y="727.2" width="7.6" height="34.8"/><text transform="translate(899.78,761.00) scale(0.7962,1)" font-size="47.87" stroke-width="2" font-weight="bold">n</text><text transform="translate(921.96,759.81) scale(0.9002,1)" font-size="46.09" stroke-width="2" font-weight="bold">)</text><g transform="translate(126,222) rotate(-90)"><text transform="translate(-0.63,-2.54) scale(1.2358,1)" font-size="39.12" stroke-width="2.4" font-weight="bold">(</text><text transform="translate(11.38,-1.00) scale(1.1110,1)" font-size="42.67" stroke-width="2" font-weight="bold">m</text><text transform="translate(52.53,-2.54) scale(1.2358,1)" font-size="39.12" stroke-width="2.4" font-weight="bold">)</text></g></g>
</svg>
</body></html>
